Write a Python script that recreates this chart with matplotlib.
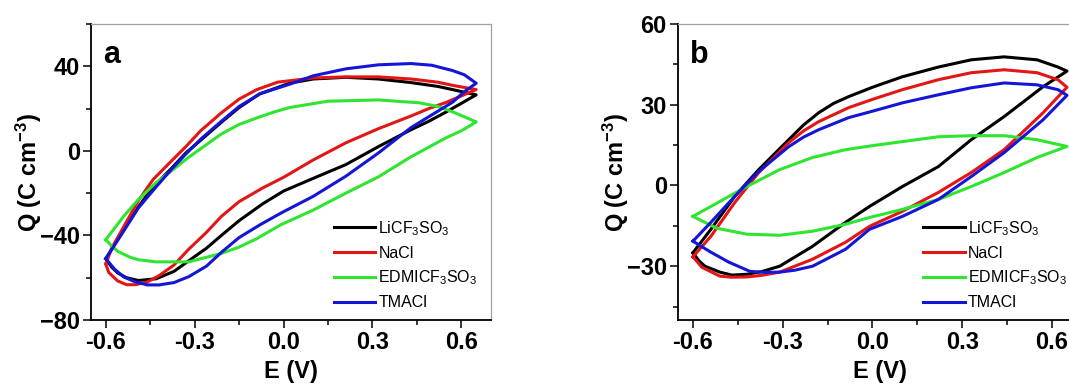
import numpy as np
import matplotlib
matplotlib.use("Agg")
import matplotlib.pyplot as plt
from matplotlib.ticker import MultipleLocator

plt.rcParams['font.family'] = ['Liberation Sans', 'DejaVu Sans']
plt.rcParams['mathtext.fontset'] = 'custom'
plt.rcParams['mathtext.rm'] = 'Liberation Sans'
plt.rcParams['mathtext.default'] = 'regular'

labels = ["LiCF$_3$SO$_3$", "NaCl", "EDMICF$_3$SO$_3$", "TMACl"]
colors = ["#000000", "#e41515", "#2fe52f", "#1515d8"]

# panel a, loops (forward scan then back)
a_E_li = [-0.60, -0.54, -0.49, -0.44, -0.38, -0.33, -0.28, -0.21, -0.15, -0.08, 0.02, 0.10, 0.21, 0.32, 0.43, 0.52, 0.57, 0.65,
          0.60, 0.55, 0.49, 0.43, 0.32, 0.21, 0.10, 0.00, -0.07, -0.15, -0.21, -0.26, -0.32, -0.37, -0.43, -0.49, -0.53, -0.56, -0.58, -0.60]
a_Q_li = [-51, -37.5, -26.5, -17, -8.5, -1, 5, 13.5, 20.5, 27, 32, 34, 34.8, 34, 32.3, 30.5, 29, 26.5,
          22.5, 18.5, 14, 10, 2, -6.5, -13, -19, -25, -33, -40, -46, -52, -57, -60.5, -61.3, -60, -57.7, -55, -51]

a_E_na = [-0.60, -0.58, -0.54, -0.49, -0.44, -0.38, -0.33, -0.28, -0.21, -0.15, -0.09, -0.02, 0.10, 0.21, 0.32, 0.43, 0.52, 0.57, 0.65,
          0.60, 0.55, 0.49, 0.43, 0.32, 0.21, 0.10, 0.00, -0.07, -0.15, -0.21, -0.26, -0.32, -0.37, -0.42, -0.46, -0.50, -0.53, -0.56, -0.59, -0.60]
a_Q_na = [-53.5, -46, -36, -23.5, -13.5, -5, 2, 9.5, 18, 24.5, 29, 32.5, 34.5, 35, 35, 34, 32.5, 31, 29,
          26, 23, 20, 16.5, 10.5, 3.8, -4.3, -12.5, -17.5, -24, -31, -38.5, -46.5, -54, -59, -62, -63.3, -63.3, -61.5, -57.5, -53.5]

a_E_ed = [-0.60, -0.54, -0.49, -0.43, -0.37, -0.32, -0.26, -0.21, -0.15, -0.09, -0.03, 0.02, 0.15, 0.32, 0.46, 0.52, 0.57, 0.65,
          0.60, 0.55, 0.43, 0.32, 0.21, 0.10, -0.01, -0.09, -0.15, -0.21, -0.32, -0.43, -0.49, -0.52, -0.56, -0.58, -0.60]
a_Q_ed = [-42, -31, -23, -15, -8.5, -3, 3, 8, 12.5, 15.6, 18.5, 20.5, 23.5, 24.1, 22.7, 21, 18.5, 13.7,
          9.5, 6.3, -2.8, -12.3, -20, -28, -35, -41.5, -45.5, -48.5, -52.5, -52.5, -51.5, -50.2, -47.5, -45, -42]

a_E_tm = [-0.60, -0.54, -0.49, -0.43, -0.38, -0.33, -0.28, -0.21, -0.15, -0.08, 0.02, 0.10, 0.21, 0.32, 0.43, 0.50, 0.57, 0.61, 0.65,
          0.61, 0.57, 0.50, 0.43, 0.32, 0.21, 0.10, -0.01, -0.08, -0.15, -0.21, -0.26, -0.32, -0.37, -0.42, -0.46, -0.50, -0.54, -0.57, -0.60]
a_Q_tm = [-51, -38, -27, -17, -9, -1.5, 5.5, 14, 21, 27, 31.5, 35.5, 38.8, 40.7, 41.3, 40.5, 38, 36, 32,
          28, 23, 17, 11, -1, -12, -21.5, -29.5, -35, -41, -48, -54.5, -59.5, -62.3, -63.4, -63.4, -62, -59.6, -56, -51]

# panel b
b_E_li = [-0.60, -0.54, -0.46, -0.38, -0.28, -0.23, -0.18, -0.13, -0.08, 0.00, 0.10, 0.22, 0.33, 0.44, 0.55, 0.62, 0.65,
          0.57, 0.44, 0.33, 0.22, 0.10, -0.01, -0.09, -0.20, -0.31, -0.37, -0.42, -0.47, -0.51, -0.56, -0.58, -0.60]
b_Q_li = [-25, -16.3, -4, 5.9, 17, 22.5, 27, 30.5, 33, 36.5, 40.4, 44, 46.7, 47.8, 46.7, 44, 42.5,
          36.7, 25.6, 17, 7, -0.4, -7.8, -13.7, -22.6, -30, -32, -33, -33.3, -32.2, -30, -28, -25]

b_E_na = [-0.60, -0.54, -0.46, -0.38, -0.28, -0.23, -0.18, -0.08, 0.00, 0.10, 0.22, 0.33, 0.44, 0.55, 0.62, 0.65,
          0.57, 0.44, 0.33, 0.22, 0.10, -0.01, -0.09, -0.20, -0.31, -0.37, -0.42, -0.47, -0.51, -0.57, -0.60]
b_Q_na = [-26.5, -18.9, -6.3, 4.8, 15.9, 20.3, 23.7, 28.9, 32, 35.6, 39.3, 41.9, 43, 41.9, 39.3, 36.5,
          27, 13.3, 4.8, -2.6, -9.6, -15.2, -21.1, -27.4, -32.2, -33.4, -34, -34.1, -33.7, -30.4, -26.5]

b_E_ed = [-0.60, -0.54, -0.42, -0.31, -0.20, -0.09, 0.00, 0.10, 0.22, 0.33, 0.44, 0.55, 0.65,
          0.55, 0.44, 0.33, 0.22, 0.10, -0.01, -0.09, -0.20, -0.31, -0.42, -0.52, -0.60]
b_Q_ed = [-11.5, -7.8, -0.4, 5.9, 10.4, 13.3, 14.8, 16.3, 18.1, 18.5, 18.5, 17, 14.5,
          10.4, 4.8, -0.4, -5.2, -8.9, -11.9, -14.4, -17, -18.5, -18.1, -15.9, -11.5]

b_E_tm = [-0.60, -0.54, -0.46, -0.38, -0.28, -0.23, -0.18, -0.08, 0.00, 0.10, 0.22, 0.33, 0.44, 0.55, 0.62, 0.65,
          0.57, 0.44, 0.33, 0.22, 0.10, -0.01, -0.09, -0.20, -0.26, -0.31, -0.36, -0.41, -0.48, -0.54, -0.60]
b_Q_tm = [-20.7, -13.7, -4, 5.2, 14.4, 18, 20.7, 25.2, 27.6, 30.7, 33.7, 36.3, 38.1, 37.4, 35.6, 33.5,
          24.4, 12.2, 3.3, -5.2, -11.5, -16.3, -23.7, -30, -31.5, -32.2, -32.3, -31.9, -28.5, -24.8, -20.7]

panel_a = [(a_E_li, a_Q_li), (a_E_na, a_Q_na), (a_E_ed, a_Q_ed), (a_E_tm, a_Q_tm)]
panel_b = [(b_E_li, b_Q_li), (b_E_na, b_Q_na), (b_E_ed, b_Q_ed), (b_E_tm, b_Q_tm)]

fig = plt.figure(figsize=(10.69, 3.85), dpi=100)
ax_a = fig.add_axes([0.0851, 0.1688, 0.3742, 0.7688])
ax_b = fig.add_axes([0.6342, 0.1688, 0.3779, 0.7688])


def style_axis(ax, ylim, ymajor, letter):
    ax.set_xlim(-0.65, 0.7)
    ax.set_ylim(*ylim)
    ax.xaxis.set_major_locator(MultipleLocator(0.3))
    ax.xaxis.set_minor_locator(MultipleLocator(0.15))
    ax.yaxis.set_major_locator(MultipleLocator(ymajor))
    ax.yaxis.set_minor_locator(MultipleLocator(ymajor / 2))
    ax.xaxis.set_major_formatter(matplotlib.ticker.FormatStrFormatter('%.1f'))
    for side in ['left', 'bottom']:
        ax.spines[side].set_linewidth(1.3)
    for side in ['top', 'right']:
        ax.spines[side].set_color('#a0a0a0')
        ax.spines[side].set_linewidth(0.9)
    ax.tick_params(which='both', direction='out', top=False, right=False, width=1.1)
    ax.tick_params(which='major', length=6, labelsize=17, pad=2)
    ax.tick_params(which='minor', length=3.5)
    for lbl in ax.get_xticklabels() + ax.get_yticklabels():
        lbl.set_fontweight('bold')
    ax.set_xlabel("E (V)", fontsize=17, fontweight='bold', labelpad=4)
    ax.set_ylabel("Q (C cm$^{-3}$)", fontsize=17, fontweight='bold', labelpad=-3)
    ax.text(0.03, 0.868, letter, transform=ax.transAxes, fontsize=22, fontweight='bold', va='baseline')
    ax.legend(loc='lower left', bbox_to_anchor=(0.575, -0.01), frameon=False, fontsize=11.5,
              handlelength=2.6, handletextpad=0.2, labelspacing=0.5, borderpad=0.3)


for (E, Q), c, lab in zip(panel_a, colors, labels):
    ax_a.plot(E, Q, color=c, lw=2.2, label=lab, solid_joinstyle='round')
for (E, Q), c, lab in zip(panel_b, colors, labels):
    ax_b.plot(E, Q, color=c, lw=2.2, label=lab, solid_joinstyle='round')

style_axis(ax_a, (-80, 60), 40, 'a')
style_axis(ax_b, (-50, 60), 30, 'b')

plt.savefig("out.png", dpi=100)
